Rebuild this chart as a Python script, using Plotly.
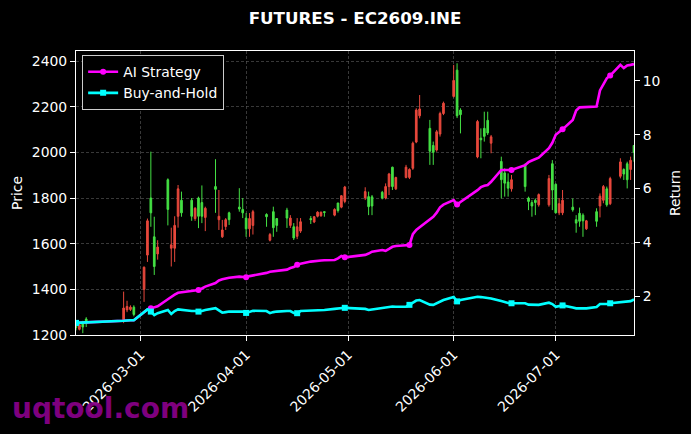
import plotly.graph_objects as go

# ---------------- data ----------------
TITLE = "FUTURES - EC2609.INE"

MONTH_DAYS = {
    "2026-02": [10, 11, 12, 13, 24, 25, 26, 27],
    "2026-03": [2, 3, 4, 5, 6, 9, 10, 11, 12, 13, 16, 17, 18, 19, 20, 23, 24, 25, 26, 27, 30, 31],
    "2026-04": [1, 2, 3, 7, 8, 9, 10, 13, 14, 15, 16, 17, 20, 21, 22, 23, 24, 27, 28, 29, 30],
    "2026-05": [6, 7, 8, 11, 12, 13, 14, 15, 18, 19, 20, 21, 22, 25, 26, 27, 28, 29],
    "2026-06": [1, 2, 3, 8, 9, 10, 11, 12, 15, 16, 17, 18, 22, 23, 24, 25, 26, 29, 30],
    "2026-07": [1, 2, 3, 6, 7, 8, 9, 10, 13, 14, 15, 16, 17, 20, 21, 22, 23, 24],
}
DATES = [f"{m}-{d:02d}" for m, days in MONTH_DAYS.items() for d in days]

OPEN = [1240, 1225, 1255, 1270, 1265, 1310, 1312, 1322,
        1400, 1550, 1800, 1630, 1555, 1880, 1580, 1580, 1720, 1790, 1790, 1710,
        1800, 1780, 1715, 1850, 1705, 1630, 1675, 1735, 1760, 1750,
        1712, 1665, 1680, 1728, 1615, 1740, 1710, 1747, 1680, 1674, 1632, 1655,
        1710, 1695, 1720, 1722, 1740, 1725, 1778, 1760, 1785,
        1800, 1806, 1805, 1825, 1800, 1850, 1935, 1840, 1890, 1890, 1930, 2045,
        2160, 2105, 2030, 2010, 2080, 2170,
        2245, 2360, 2185, 1980, 2062, 2105, 2140, 2040, 1960, 1910, 1870, 1840,
        1945, 1800, 1780, 1790, 1770, 1770, 1950,
        1860, 1735, 1735, 1760, 1705, 1733, 1725, 1665, 1740, 1765, 1790, 1840,
        1775, 1895, 1925, 1950, 1925, 2030]
HIGH = [1250, 1250, 1262, 1278, 1390, 1350, 1330, 1330,
        1500, 1710, 2003, 1718, 1615, 1886, 1670, 1720, 1857, 1828, 1800, 1760,
        1806, 1855, 1762, 1970, 1835, 1704, 1712, 1740, 1843, 1800,
        1734, 1734, 1748, 1733, 1647, 1762, 1712, 1757, 1725, 1690, 1712, 1712,
        1721, 1721, 1742, 1740, 1741, 1755, 1779, 1813, 1853,
        1847, 1828, 1813, 1831, 1864, 1910, 1937, 1893, 1945, 1930, 2047, 2193,
        2251, 2142, 2047, 2098, 2178, 2222,
        2383, 2390, 2193, 2142, 2105, 2178, 2178, 2076, 1981, 1930, 1908, 1901,
        1952, 1806, 1791, 1798, 1820, 1901, 1966,
        1864, 1800, 1835, 1798, 1725, 1758, 1733, 1704, 1755, 1820, 1857, 1850,
        1893, 1974, 1930, 1959, 1981, 2032]
LOW = [1220, 1220, 1208, 1235, 1252, 1300, 1305, 1282,
       1345, 1520, 1674, 1463, 1530, 1680, 1500, 1520, 1670, 1718, 1700, 1700,
       1668, 1690, 1655, 1735, 1660, 1625, 1660, 1682, 1740, 1712,
       1630, 1630, 1640, 1674, 1610, 1630, 1652, 1669, 1669, 1616, 1620, 1647,
       1686, 1690, 1715, 1718, 1718, 1720, 1736, 1755, 1777,
       1791, 1725, 1725, 1794, 1794, 1813, 1835, 1835, 1886, 1883, 1923, 2040,
       2149, 1945, 1945, 2003, 2069, 2163,
       2240, 2150, 2083, 1974, 1974, 2047, 2076, 1996, 1798, 1806, 1806, 1828,
       1828, 1747, 1718, 1725, 1762, 1762, 1747,
       1733, 1725, 1725, 1740, 1648, 1674, 1630, 1660, 1674, 1715, 1777, 1762,
       1769, 1886, 1879, 1842, 1879, 1959]
CLOSE = [1232, 1245, 1235, 1250, 1318, 1325, 1322, 1290,
         1497, 1700, 1735, 1500, 1585, 1750, 1595, 1680, 1840, 1735, 1720, 1755,
         1720, 1720, 1755, 1838, 1720, 1660, 1705, 1705, 1752, 1735,
         1665, 1710, 1740, 1718, 1640, 1670, 1680, 1712, 1712, 1625, 1674, 1696,
         1705, 1718, 1738, 1738, 1737, 1750, 1745, 1810, 1848,
         1828, 1762, 1765, 1800, 1850, 1905, 1850, 1890, 1935, 1925, 2040, 2185,
         2190, 2005, 2000, 2090, 2170, 2215,
         2315, 2160, 2165, 2135, 2055, 2070, 2085, 2068, 1880, 1865, 1843, 1880,
         1850, 1785, 1765, 1780, 1815, 1885, 1835,
         1735, 1775, 1790, 1748, 1690, 1698, 1700, 1700, 1698, 1808, 1850, 1770,
         1885, 1958, 1905, 1880, 1965, 2000]

AI_STRATEGY = [1.00, 1.01, 1.01, 1.02, 1.08, 1.10, 1.10, 1.10,
               1.38, 1.50, 1.54, 1.58, 1.62, 1.88, 1.98, 2.05, 2.12, 2.14, 2.18, 2.20,
               2.22, 2.28, 2.35, 2.48, 2.58, 2.62, 2.66, 2.68, 2.72, 2.72,
               2.70, 2.74, 2.76, 2.86, 2.90, 2.92, 2.93, 2.98, 3.04, 3.08, 3.16, 3.20,
               3.28, 3.30, 3.31, 3.32, 3.33, 3.34, 3.40, 3.49, 3.44,
               3.53, 3.58, 3.65, 3.71, 3.68, 3.75, 3.83, 3.86, 3.88, 3.90, 4.30, 4.46,
               4.56, 4.83, 4.95, 5.10, 5.30, 5.40,
               5.57, 5.40, 5.50, 5.94, 6.05, 6.10, 6.13, 6.25, 6.69, 6.69, 6.69, 6.69,
               6.87, 6.98, 7.04, 7.10, 7.15, 7.50, 7.70,
               8.00, 8.10, 8.20, 8.55, 8.90, 9.02, 9.03, 9.04, 9.05, 9.65, 9.90, 10.10,
               10.20, 10.60, 10.48, 10.58, 10.60, 10.63]
BUY_AND_HOLD = [1.00, 1.01, 1.01, 1.02, 1.08, 1.10, 1.10, 1.10,
                1.38, 1.50, 1.42, 1.29, 1.36, 1.48, 1.33, 1.44, 1.50, 1.48, 1.44, 1.44,
                1.42, 1.44, 1.48, 1.55, 1.48, 1.38, 1.40, 1.42, 1.42, 1.42,
                1.37, 1.42, 1.45, 1.44, 1.36, 1.40, 1.42, 1.44, 1.44, 1.37, 1.36, 1.44,
                1.45, 1.47, 1.48, 1.48, 1.48, 1.52, 1.54, 1.55, 1.56,
                1.52, 1.48, 1.50, 1.55, 1.57, 1.60, 1.61, 1.60, 1.60, 1.67, 1.76, 1.83,
                1.85, 1.68, 1.67, 1.74, 1.81, 1.85,
                1.96, 1.80, 1.85, 1.97, 1.96, 1.94, 1.93, 1.91, 1.81, 1.76, 1.74, 1.73,
                1.73, 1.68, 1.67, 1.67, 1.67, 1.75, 1.70,
                1.60, 1.63, 1.65, 1.57, 1.54, 1.54, 1.54, 1.54, 1.59, 1.70, 1.70, 1.70,
                1.73, 1.78, 1.78, 1.80, 1.81, 1.87]

PRICE_TICKS = [1200, 1400, 1600, 1800, 2000, 2200, 2400]
RETURN_TICKS = [2, 4, 6, 8, 10]
DATE_TICKS = ["2026-03-01", "2026-04-01", "2026-05-01", "2026-06-01", "2026-07-01"]
SERIES_NAMES = ["AI Strategy", "Buy-and-Hold"]
WATERMARK = "uqtool.com"

# ---------------- style ----------------
RED = "#e8483c"
GREEN = "#44e044"
MAGENTA = "#ff00ff"
CYAN = "#00ffff"
FONT = "DejaVu Sans"
W, H = 691, 434
ML, MR, MT, MB = 76, 57, 51, 99
MARK_EVERY = 10
GRID = "rgba(100,100,100,0.7)"

fig = go.Figure()

fig.add_trace(go.Candlestick(
    x=DATES, open=OPEN, high=HIGH, low=LOW, close=CLOSE,
    increasing=dict(line=dict(color=RED, width=1), fillcolor=RED),
    decreasing=dict(line=dict(color=GREEN, width=1), fillcolor=GREEN),
    whiskerwidth=0, showlegend=False, hoverinfo="skip",
))

mark_idx = list(range(0, len(DATES), MARK_EVERY))
for name, vals, color, sym in [(SERIES_NAMES[0], AI_STRATEGY, MAGENTA, "circle"),
                               (SERIES_NAMES[1], BUY_AND_HOLD, CYAN, "square")]:
    fig.add_trace(go.Scatter(x=DATES, y=vals, mode="lines", yaxis="y2",
                             line=dict(color=color, width=2.6), showlegend=False))
    fig.add_trace(go.Scatter(x=[DATES[i] for i in mark_idx], y=[vals[i] for i in mark_idx],
                             mode="markers", yaxis="y2",
                             marker=dict(symbol=sym, size=6, color=color), showlegend=False))

for name, color, sym in [(SERIES_NAMES[0], MAGENTA, "circle"), (SERIES_NAMES[1], CYAN, "square")]:
    fig.add_trace(go.Scatter(x=[None], y=[None], mode="lines+markers", name=name, yaxis="y2",
                             line=dict(color=color, width=2.6),
                             marker=dict(symbol=sym, size=6, color=color)))

axis_common = dict(ticks="outside", ticklen=5, tickwidth=1, tickcolor="white",
                   showline=True, linecolor="white", linewidth=1, zeroline=False,
                   tickfont=dict(size=13.9, color="white", family=FONT))

fig.update_layout(
    width=W, height=H,
    margin=dict(l=ML, r=MR, t=MT, b=MB, pad=0),
    paper_bgcolor="black", plot_bgcolor="black",
    font=dict(family=FONT, color="white", size=13.9),
    title=dict(text=f"<b>{TITLE}</b>", x=0.5, xref="paper", xanchor="center",
               y=1 - 18 / H, yref="container", yanchor="middle",
               font=dict(size=16.7, color="white", family=FONT)),
    xaxis=dict(type="date", range=["2026-02-10", "2026-07-24"],
               tickvals=DATE_TICKS, tickformat="%Y-%m-%d", tickangle=-45,
               showgrid=True, gridcolor=GRID, gridwidth=0.8, griddash="3px,2px",
               mirror=True, rangeslider=dict(visible=False), **axis_common),
    yaxis=dict(range=[1200, 2443.8], tickvals=PRICE_TICKS,
               showgrid=True, gridcolor=GRID, gridwidth=0.8, griddash="3px,2px",
               title=dict(text="Price", standoff=5, font=dict(size=13.9)),
               **axis_common),
    yaxis2=dict(range=[0.549, 11.116], tickvals=RETURN_TICKS, overlaying="y", side="right",
                showgrid=False,
                title=dict(text="Return", standoff=10, font=dict(size=13.9)),
                **axis_common),
    legend=dict(x=0.011, y=0.985, xanchor="left", yanchor="top",
                bgcolor="black", bordercolor="#cccccc", borderwidth=1,
                font=dict(size=13.9, color="white", family=FONT),
                itemwidth=30, tracegroupgap=0),
    annotations=[dict(text=f"<b>{WATERMARK}</b>", xref="paper", yref="paper",
                      x=(10 - ML) / (W - ML - MR), y=(H - MB - 408) / (H - MT - MB),
                      xanchor="left", yanchor="middle", showarrow=False,
                      font=dict(size=28, color="rgba(135,0,135,0.95)", family=FONT))],
)

fig.write_html(
    "out.html",
    config={"displayModeBar": False, "staticPlot": True},
    post_script="document.body.style.margin='0';document.body.style.background='black';"
                "document.documentElement.style.overflow='hidden';",
)
